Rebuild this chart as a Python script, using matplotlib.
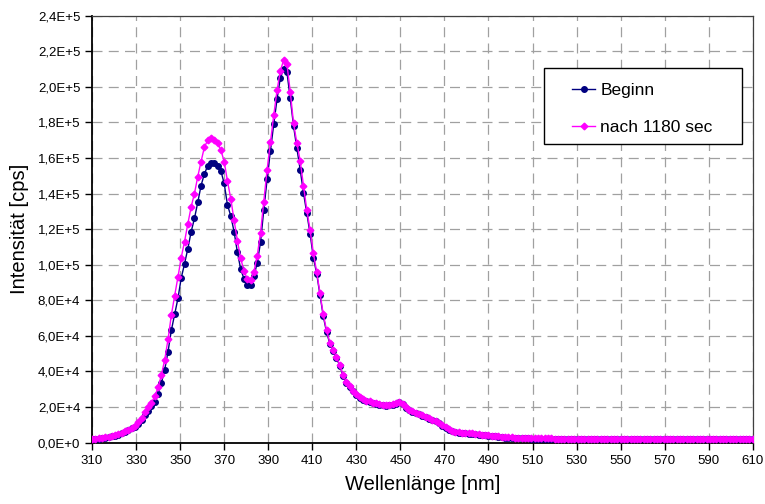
import numpy as np
import matplotlib
matplotlib.use("Agg")
import matplotlib.pyplot as plt
from matplotlib.patches import Rectangle
from matplotlib.ticker import FuncFormatter, MultipleLocator

plt.rcParams["font.family"] = ["Liberation Sans", "DejaVu Sans"]

# wavelengths, 1.5 nm steps from 310 to 610 nm
wavelength = np.linspace(310, 610, 201)
x_ticks = list(range(310, 611, 20))

# intensities in 1000 cps
beginn = [
    1.8, 2.0, 2.2, 2.4, 2.7, 3.0, 3.4, 3.9, 4.5, 5.2,
    6.0, 6.9, 7.9, 9.0, 10.5, 12.5, 15.5, 18.0, 20.5, 23.0,
    27.5, 33.5, 41.0, 51.0, 63.0, 72.0, 81.0, 92.5, 100.5, 109.0,
    118.5, 126.0, 135.0, 144.5, 151.0, 155.5, 157.0, 157.0, 155.5, 152.8,
    145.7, 133.5, 127.5, 118.5, 107.0, 97.5, 92.0, 88.5, 88.5, 93.5,
    101.0, 112.5, 131.0, 148.0, 164.0, 179.0, 193.0, 205.0, 210.0, 208.2,
    193.5, 178.0, 165.5, 153.5, 140.5, 129.0, 117.5, 104.0, 95.0, 83.0,
    71.0, 62.0, 55.5, 51.5, 47.5, 43.0, 37.5, 33.5, 31.0, 28.8,
    26.5, 25.0, 24.0, 23.3, 22.8, 22.2, 21.7, 21.3, 21.0, 20.8,
    20.9, 21.3, 21.9, 22.7, 21.5, 19.5, 18.2, 17.3, 16.5, 15.8,
    15.0, 14.2, 13.4, 12.6, 11.9, 10.8, 9.4, 8.2, 7.2, 6.3,
    5.7, 5.4, 5.2, 5.1, 5.0, 4.8, 4.6, 4.4, 4.2, 4.0,
    3.8, 3.6, 3.4, 3.2, 3.0, 2.8, 2.7, 2.6, 2.5, 2.4, 2.35,
    2.3, 2.3, 2.25, 2.2, 2.2, 2.15, 2.1, 2.1, 2.1, 2.05,
    2.0, 2.0, 2.0, 2.0, 1.95, 1.95, 1.95, 1.9, 1.9, 1.9,
    1.9, 1.9, 1.85, 1.85, 1.85, 1.85, 1.85, 1.8, 1.8, 1.8,
    1.8, 1.8, 1.8, 1.8, 1.8, 1.75, 1.75, 1.75, 1.75, 1.75,
    1.75, 1.75, 1.75, 1.75, 1.7, 1.7, 1.7, 1.7, 1.7, 1.7,
    1.7, 1.7, 1.7, 1.7, 1.7, 1.7, 1.7, 1.7, 1.7, 1.7,
    1.7, 1.7, 1.7, 1.7, 1.7, 1.7, 1.7, 1.7, 1.7, 1.7,
]

nach_1180 = [
    1.9, 2.1, 2.3, 2.6, 2.9, 3.2, 3.6, 4.1, 4.7, 5.4,
    6.2, 7.1, 8.2, 9.5, 11.3, 13.8, 17.0, 20.0, 22.5, 26.0,
    31.0, 38.0, 46.5, 58.0, 71.5, 82.5, 93.0, 104.0, 113.0, 123.0,
    132.5, 140.0, 149.5, 158.0, 166.0, 170.0, 171.0, 170.2, 168.5, 164.5,
    158.0, 147.0, 137.0, 125.0, 113.5, 103.5, 96.5, 92.0, 91.5, 96.0,
    105.0, 118.0, 135.5, 153.5, 169.0, 184.0, 198.0, 209.0, 215.0, 212.7,
    197.3, 179.5, 168.5, 158.5, 144.5, 131.0, 119.5, 106.5, 96.0, 84.0,
    72.0, 63.0, 56.0, 52.0, 48.0, 43.5, 38.0, 34.0, 31.5, 29.2,
    27.0, 25.4, 24.3, 23.6, 23.1, 22.5, 22.0, 21.6, 21.3, 21.1,
    21.2, 21.6, 22.2, 23.0, 21.8, 19.8, 18.5, 17.6, 16.8, 16.1,
    15.3, 14.5, 13.7, 12.9, 12.2, 11.1, 9.7, 8.5, 7.5, 6.6,
    6.0, 5.7, 5.5, 5.4, 5.3, 5.1, 4.9, 4.7, 4.5, 4.3,
    4.1, 3.9, 3.7, 3.5, 3.3, 3.1, 3.0, 2.9, 2.8, 2.7, 2.65,
    2.5, 2.5, 2.45, 2.4, 2.4, 2.35, 2.3, 2.3, 2.3, 2.25,
    2.2, 2.2, 2.2, 2.2, 2.15, 2.15, 2.15, 2.1, 2.1, 2.1,
    2.1, 2.1, 2.05, 2.05, 2.05, 2.05, 2.05, 2.0, 2.0, 2.0,
    2.0, 2.0, 2.0, 2.0, 2.0, 1.95, 1.95, 1.95, 1.95, 1.95,
    1.95, 1.95, 1.95, 1.95, 1.9, 1.9, 1.9, 1.9, 1.9, 1.9,
    1.9, 1.9, 1.9, 1.9, 1.9, 1.9, 1.9, 1.9, 1.9, 1.9,
    1.9, 1.9, 1.9, 1.9, 1.9, 1.9, 1.9, 1.9, 1.9, 1.9,
]


def excel_sci(v, pos):
    """2e4 -> '2,0E+4' like the German Excel axis."""
    if v <= 0:
        return "0,0E+0"
    e = int(np.floor(np.log10(v) + 1e-9))
    m = v / 10 ** e
    return f"{m:.1f}".replace(".", ",") + f"E+{e}"


fig = plt.figure(figsize=(7.65, 5.04), dpi=100)
ax = fig.add_axes([0.1203, 0.122, 0.8637, 0.8468])

ax.plot(wavelength, np.array(beginn) * 1000, color="#000080", lw=1.0,
        marker="o", ms=4.0, mec="#000080", mfc="#000080", label="Beginn", zorder=3)
ax.plot(wavelength, np.array(nach_1180) * 1000, color="#FF00FF", lw=1.0,
        marker="D", ms=3.4, mec="#FF00FF", mfc="#FF00FF", label="nach 1180 sec", zorder=4)

ax.set_xlim(310, 610)
ax.set_ylim(0, 240000)
ax.set_xticks(x_ticks)
ax.yaxis.set_major_locator(MultipleLocator(20000))
ax.yaxis.set_major_formatter(FuncFormatter(excel_sci))

ax.grid(True, color="#a0a0a0", ls=(0, (8, 5)), lw=0.9)
ax.set_axisbelow(True)
ax.tick_params(direction="out", length=5, width=1, labelsize=9.5, colors="black")
ax.tick_params(axis="x", pad=4)
for side in ("left", "bottom"):
    ax.spines[side].set_linewidth(1.3)
    ax.spines[side].set_color("black")
for side in ("top", "right"):
    ax.spines[side].set_linewidth(0.9)
    ax.spines[side].set_color("#404040")

ax.set_xlabel("Wellenlänge [nm]", fontsize=14.5, labelpad=6)
ax.set_ylabel("Intensität [cps]", fontsize=14.5, labelpad=6)

# Excel-style legend: white box with the entries centred inside
ax.add_patch(Rectangle((0.684, 0.6994), 0.299, 0.1781, transform=ax.transAxes,
                       facecolor="white", edgecolor="black", lw=1.0, zorder=5))
leg = ax.legend(loc="upper left", bbox_to_anchor=(0.7262, 0.8426), frameon=False,
                borderaxespad=0, borderpad=0, fontsize=12.5, handlelength=1.35,
                handletextpad=0.3, labelspacing=1.27, numpoints=1)
leg.set_zorder(6)

fig.savefig("out.png", dpi=100)
